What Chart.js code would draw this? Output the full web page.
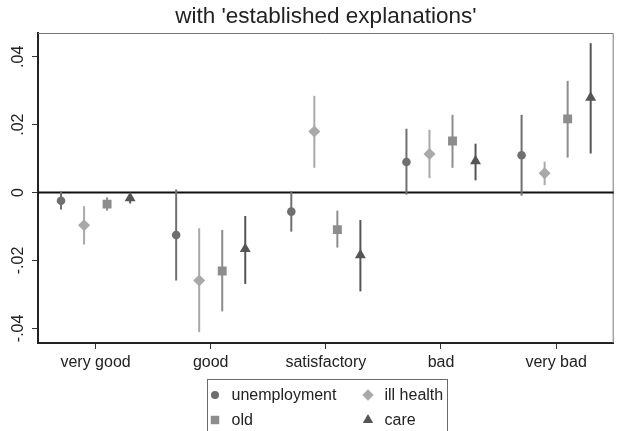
<!DOCTYPE html>
<html>
<head>
<meta charset="utf-8">
<script src="https://cdn.jsdelivr.net/npm/chart.js@4/dist/chart.umd.min.js"></script>
<style>
  html, body { margin: 0; padding: 0; background: #ffffff; }
  #wrap { width: 620px; height: 431px; }
</style>
</head>
<body>
<div id="wrap"><canvas id="c" width="620" height="431"></canvas></div>
<script>
// Self-rated health categories and y-axis ticks
const CATEGORIES = ['very good', 'good', 'satisfactory', 'bad', 'very bad'];
const Y_TICKS = [-0.04, -0.02, 0, 0.02, 0.04];
const Y_TICK_LABELS = ['-.04', '-.02', '0', '.02', '.04'];
const SERIES_NAMES = ['unemployment', 'ill health', 'old', 'care'];
const TITLE = "with 'established explanations'";

// Point estimates with lower / upper confidence bounds
const UNEMP    = [-0.0024, -0.0125, -0.0056, 0.0090, 0.0110];
const UNEMP_LO = [-0.0050, -0.0259, -0.0115, -0.0006, -0.0009];
const UNEMP_HI = [ 0.0003,  0.0009,  0.0004, 0.0188, 0.0229];

const ILL    = [-0.0096, -0.0259, 0.0180, 0.0114, 0.0057];
const ILL_LO = [-0.0153, -0.0411, 0.0073, 0.0043, 0.0022];
const ILL_HI = [-0.0040, -0.0105, 0.0285, 0.0185, 0.0091];

const OLD    = [-0.0034, -0.0231, -0.0109, 0.0152, 0.0217];
const OLD_LO = [-0.0053, -0.0350, -0.0162, 0.0073, 0.0103];
const OLD_HI = [-0.0014, -0.0110, -0.0053, 0.0229, 0.0329];

const CARE    = [-0.0016, -0.0166, -0.0184, 0.0093, 0.0280];
const CARE_LO = [-0.0032, -0.0269, -0.0291, 0.0036, 0.0115];
const CARE_HI = [-0.0005, -0.0069, -0.0081, 0.0144, 0.0440];

// Styling
const FONT = "'Liberation Sans', Arial, sans-serif";
const TEXT = '#222222';
const COLORS = ['#6f6f6f', '#a9a9a9', '#8d8d8d', '#555555'];
const STYLES = ['circle', 'rectRot', 'rect', 'triangle'];
const RADII = [4.3, 6, 6.3, 6.3];
const GROUP_OFFSETS = [-0.3, -0.1, 0.1, 0.3];

const SERIES = [
  { est: UNEMP, lo: UNEMP_LO, hi: UNEMP_HI },
  { est: ILL,   lo: ILL_LO,   hi: ILL_HI },
  { est: OLD,   lo: OLD_LO,   hi: OLD_HI },
  { est: CARE,  lo: CARE_LO,  hi: CARE_HI }
];

const datasets = SERIES.map((s, k) => ({
  label: SERIES_NAMES[k],
  data: s.est.map((v, i) => ({ x: i + 1 + GROUP_OFFSETS[k], y: v })),
  pointStyle: STYLES[k],
  pointRadius: RADII[k],
  pointBackgroundColor: COLORS[k],
  pointBorderColor: COLORS[k],
  pointBorderWidth: 0,
  showLine: false
}));

// marker shapes for the legend
function drawMarker(ctx, style, x, y, r, color) {
  ctx.save();
  ctx.fillStyle = color;
  ctx.beginPath();
  if (style === 'circle') {
    ctx.arc(x, y, r, 0, Math.PI * 2);
  } else if (style === 'rectRot') {
    ctx.moveTo(x - r, y); ctx.lineTo(x, y - r); ctx.lineTo(x + r, y); ctx.lineTo(x, y + r);
    ctx.closePath();
  } else if (style === 'rect') {
    const h = r * Math.SQRT1_2;
    ctx.rect(x - h, y - h, 2 * h, 2 * h);
  } else if (style === 'triangle') {
    ctx.moveTo(x, y - r);
    ctx.lineTo(x + r * Math.sin(Math.PI / 3), y + r / 2);
    ctx.lineTo(x - r * Math.sin(Math.PI / 3), y + r / 2);
    ctx.closePath();
  }
  ctx.fill();
  ctx.restore();
}

const decorations = {
  id: 'decorations',
  beforeDatasetsDraw(chart) {
    const { ctx, chartArea: a, scales: { x, y } } = chart;
    ctx.save();
    // upper and right frame of the plot region
    ctx.strokeStyle = '#777777';
    ctx.lineWidth = 1;
    ctx.beginPath();
    ctx.moveTo(a.left, a.top + 0.5);
    ctx.lineTo(a.right - 0.5, a.top + 0.5);
    ctx.lineTo(a.right - 0.5, a.bottom);
    ctx.stroke();
    // reference line at zero
    const y0 = y.getPixelForValue(0);
    ctx.strokeStyle = '#111111';
    ctx.lineWidth = 2;
    ctx.beginPath();
    ctx.moveTo(a.left, y0);
    ctx.lineTo(a.right, y0);
    ctx.stroke();
    // confidence intervals
    ctx.lineWidth = 2;
    SERIES.forEach((s, k) => {
      ctx.strokeStyle = COLORS[k];
      s.est.forEach((v, i) => {
        const px = x.getPixelForValue(i + 1 + GROUP_OFFSETS[k]);
        ctx.beginPath();
        ctx.moveTo(px, y.getPixelForValue(s.lo[i]));
        ctx.lineTo(px, y.getPixelForValue(s.hi[i]));
        ctx.stroke();
      });
    });
    ctx.restore();
  },
  afterDraw(chart) {
    const { ctx, chartArea: a, scales: { y } } = chart;
    ctx.save();
    // title
    ctx.fillStyle = TEXT;
    ctx.font = '22.5px ' + FONT;
    ctx.textAlign = 'center';
    ctx.textBaseline = 'alphabetic';
    ctx.fillText(TITLE, (a.left + a.right) / 2, 23);
    // rotated y tick labels
    ctx.font = '16px ' + FONT;
    ctx.textBaseline = 'middle';
    Y_TICKS.forEach((v, i) => {
      ctx.save();
      ctx.translate(19, y.getPixelForValue(v));
      ctx.rotate(-Math.PI / 2);
      ctx.fillText(Y_TICK_LABELS[i], 0, 0);
      ctx.restore();
    });
    // legend box
    ctx.fillStyle = '#ffffff';
    ctx.fillRect(207, 379, 241, 60);
    ctx.strokeStyle = '#6a6a6a';
    ctx.lineWidth = 1;
    ctx.strokeRect(207.5, 379.5, 240, 60);
    const pos = [[215, 395], [368, 395], [215, 420], [368, 420]];
    const order = [0, 1, 2, 3];
    ctx.font = '16px ' + FONT;
    ctx.textAlign = 'left';
    ctx.textBaseline = 'middle';
    order.forEach((k, j) => {
      const [mx, my] = pos[j];
      drawMarker(ctx, STYLES[k], mx, my, k === 0 ? 4 : RADII[k] * 0.95, COLORS[k]);
      ctx.fillStyle = TEXT;
      ctx.fillText(SERIES_NAMES[k], mx + 16.5, my + 1);
    });
    ctx.restore();
  }
};

new Chart(document.getElementById('c'), {
  type: 'scatter',
  data: { datasets },
  options: {
    responsive: false,
    animation: false,
    events: [],
    layout: { padding: { top: 33, right: 3, left: 0, bottom: 0 } },
    plugins: { legend: { display: false }, tooltip: { enabled: false }, title: { display: false } },
    scales: {
      x: {
        type: 'linear',
        min: 0.5,
        max: 5.5,
        afterBuildTicks: (s) => { s.ticks = CATEGORIES.map((_, i) => ({ value: i + 1 })); },
        afterFit: (s) => { s.height = 88; },
        ticks: {
          callback: (v) => CATEGORIES[Math.round(v) - 1],
          font: { family: FONT, size: 16 },
          color: TEXT,
          padding: 4,
          maxRotation: 0,
          minRotation: 0,
          autoSkip: false
        },
        grid: { display: true, drawOnChartArea: false, drawTicks: true, tickLength: 6, color: '#333333', tickWidth: 1 },
        border: { display: true, color: '#222222', width: 2 }
      },
      y: {
        type: 'linear',
        min: -0.0443,
        max: 0.047,
        afterBuildTicks: (s) => { s.ticks = Y_TICKS.map((v) => ({ value: v })); },
        afterFit: (s) => { s.width = 38; },
        ticks: { display: false },
        grid: { display: true, drawOnChartArea: false, drawTicks: true, tickLength: 6, color: '#333333', tickWidth: 1 },
        border: { display: true, color: '#222222', width: 2 }
      }
    }
  },
  plugins: [decorations]
});
</script>
</body>
</html>
